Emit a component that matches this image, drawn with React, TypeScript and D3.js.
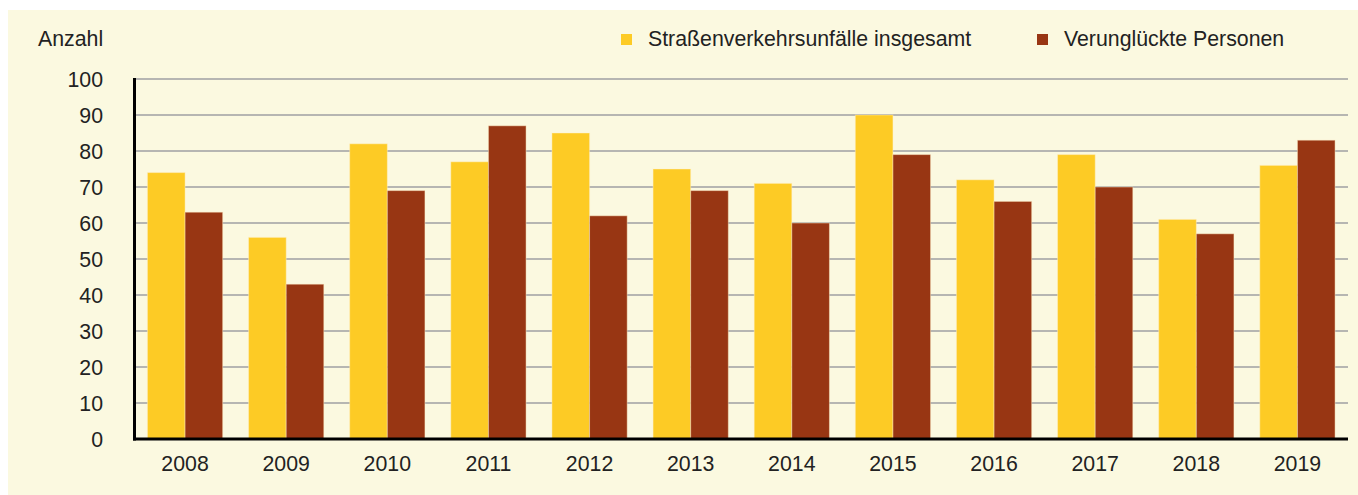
import React from "react";
import * as d3 from "d3";

const years = ["2008","2009","2010","2011","2012","2013","2014","2015","2016","2017","2018","2019"];
const unfaelle = [74,56,82,77,85,75,71,90,72,79,61,76];
const verunglueckte = [63,43,69,87,62,69,60,79,66,70,57,83];
const yTicks = [0,10,20,30,40,50,60,70,80,90,100];
const seriesNames = ["Straßenverkehrsunfälle insgesamt","Verunglückte Personen"];
const seriesColors = ["#fdcb25","#983613"];

const W = 1358, H = 495;
const FONT = "'Liberation Sans', Arial, sans-serif";

export default function App() {
  const x = d3.scaleBand<string>().domain(years).range([134.5, 1348]).paddingInner(0.256).paddingOuter(0.128);
  const sub = d3.scaleBand<number>().domain([0,1]).range([0, x.bandwidth()]);
  const y = d3.scaleLinear().domain([0,100]).range([439, 79]);
  const series = [unfaelle, verunglueckte];
  return (
    <svg width={W} height={H} style={{position:"absolute", left:0, top:0}} fontFamily={FONT}>
      <rect x={0} y={0} width={W} height={H} fill="#ffffff" />
      <rect x={8} y={10} width={W-8} height={H-10} fill="#fbf9e0" />
      {yTicks.filter(t => t > 0).map(t => (
        <line key={t} x1={134.5} x2={1348} y1={y(t)} y2={y(t)} stroke="#b6b6b2" strokeWidth={2.2} />
      ))}
      {years.map((yr, i) => (
        <g key={yr} transform={`translate(${x(yr)},0)`}>
          {series.map((s, k) => (
            <rect key={k} x={sub(k)} y={y(s[i])} width={sub.bandwidth()} height={y(0)-y(s[i])}
              fill={seriesColors[k]} stroke="rgba(255,240,200,0.45)" strokeWidth={1} />
          ))}
        </g>
      ))}
      <line x1={134.5} x2={134.5} y1={78} y2={440.5} stroke="#000" strokeWidth={3} />
      <line x1={133} x2={1348} y1={439} y2={439} stroke="#000" strokeWidth={3} />
      {yTicks.map(t => (
        <text key={t} x={103} y={y(t)} dy="0.36em" textAnchor="end" fontSize={21.3} fill="#222">{t}</text>
      ))}
      {years.map(yr => (
        <text key={yr} x={(x(yr) as number) + x.bandwidth()/2} y={471} textAnchor="middle" fontSize={21.3} fill="#222">{yr}</text>
      ))}
      <text x={38} y={45.5} fontSize={21.3} fill="#222">Anzahl</text>
      {seriesNames.map((n, k) => {
        const lx = k === 0 ? 621 : 1037;
        return (
          <g key={n}>
            <rect x={lx} y={34} width={11} height={11} fill={seriesColors[k]} />
            <text x={lx + 27} y={46} fontSize={21.3} fill="#222">{n}</text>
          </g>
        );
      })}
    </svg>
  );
}
